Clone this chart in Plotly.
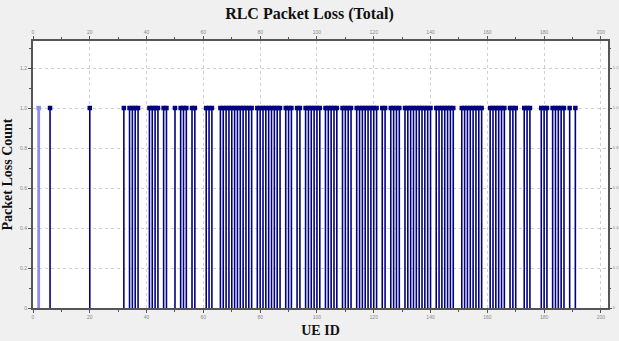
import plotly.graph_objects as go

# UE IDs with packet loss
ue_ids = [
    2, 6, 20, 32, 34, 35, 36, 37, 41, 42, 43, 44, 46, 47, 50, 52, 53, 54, 56, 57, 61, 62, 63,
    66, 67, 68, 69, 70, 71, 72, 73, 74, 75, 76, 77,
    79, 80, 81, 82, 83, 84, 85, 86, 87,
    89, 90, 91, 93, 94, 96, 97, 98, 99, 100, 101,
    103, 104, 105, 106, 107, 109, 110, 111, 112,
    114, 115, 116, 117, 118, 119, 120, 121, 123, 124,
    126, 127, 128, 129, 131, 132, 133, 134, 135, 136, 137, 138, 139, 140,
    142, 143, 144, 145, 146, 147, 148, 151, 152, 153, 154, 155, 156, 157, 158,
    161, 162, 163, 164, 165, 166, 168, 169, 170, 173, 174, 175,
    179, 180, 181, 183, 184, 185, 186, 187, 189, 191,
]
loss_count = [
    1, 1, 1, 1, 1, 1, 1, 1, 1, 1, 1, 1, 1, 1, 1, 1, 1, 1, 1, 1, 1, 1, 1, 1, 1,
    1, 1, 1, 1, 1, 1, 1, 1, 1, 1, 1, 1, 1, 1, 1, 1, 1, 1, 1, 1, 1, 1, 1, 1, 1,
    1, 1, 1, 1, 1, 1, 1, 1, 1, 1, 1, 1, 1, 1, 1, 1, 1, 1, 1, 1, 1, 1, 1, 1, 1,
    1, 1, 1, 1, 1, 1, 1, 1, 1, 1, 1, 1, 1, 1, 1, 1, 1, 1, 1, 1, 1, 1, 1, 1, 1,
    1, 1, 1, 1, 1, 1, 1, 1, 1, 1, 1, 1, 1, 1, 1, 1, 1, 1, 1, 1, 1, 1, 1, 1, 1,
]
highlight_ue = [2]

x_ticks = [0, 20, 40, 60, 80, 100, 120, 140, 160, 180, 200]
y_ticks = [0, 0.2, 0.4, 0.6, 0.8, 1.0, 1.2]
y_ticktext = ["0", "0.2", "0.4", "0.6", "0.8", "1.0", "1.2"]

n = min(len(ue_ids), len(loss_count))
ue_ids = ue_ids[:n]
loss_count = loss_count[:n]

NAVY = "#000080"
LIGHT = "#8c8cf0"

# stems as line segments
sx, sy, hx, hy = [], [], [], []
for u, v in zip(ue_ids, loss_count):
    if u in highlight_ue:
        hx += [u, u, None]
        hy += [0, v, None]
    else:
        sx += [u, u, None]
        sy += [0, v, None]

fig = go.Figure()
fig.add_trace(go.Scatter(x=sx, y=sy, mode="lines", line=dict(color=NAVY, width=1.6),
                         showlegend=False, hoverinfo="skip"))
fig.add_trace(go.Scatter(x=hx, y=hy, mode="lines", line=dict(color=LIGHT, width=2.8),
                         showlegend=False, hoverinfo="skip"))
colors = [LIGHT if u in highlight_ue else NAVY for u in ue_ids]
fig.add_trace(go.Scatter(x=ue_ids, y=loss_count, mode="markers",
                         xaxis="x2", yaxis="y2",
                         marker=dict(symbol="square", size=4.5, color=colors,
                                     line=dict(width=0)),
                         showlegend=False))

tickfont = dict(family="Liberation Sans", size=5, color="#888")
axis_common = dict(
    showline=True, linecolor="#555", linewidth=2,
    ticks="outside", ticklen=3, tickcolor="#555", tickwidth=1,
    tickfont=tickfont, zeroline=False, automargin=False,
)
xr = [0, 202.5]
yr = [0, 1.335]

fig.update_layout(
    width=619, height=341,
    paper_bgcolor="#f0f0f0", plot_bgcolor="#ffffff",
    margin=dict(l=33, r=11, t=41, b=33, autoexpand=False),
    title=dict(text="<b>RLC Packet Loss (Total)</b>", x=0.5, xanchor="center",
               y=0.978, yanchor="top",
               font=dict(family="Liberation Serif", size=16, color="#111")),
    xaxis=dict(range=xr, tickvals=x_ticks, ticktext=[str(v) for v in x_ticks],
               showgrid=True, gridcolor="#cfcfcf", griddash="dot", gridwidth=1,
               minor=dict(dtick=10, ticks="outside", ticklen=2, tickcolor="#555"),
               title=dict(text="<b>UE ID</b>", standoff=6,
                          font=dict(family="Liberation Serif", size=14, color="#111")),
               **axis_common),
    xaxis2=dict(range=xr, tickvals=x_ticks, ticktext=[str(v) for v in x_ticks],
                overlaying="x", side="top", anchor="y2", showgrid=False,
                minor=dict(dtick=10, ticks="outside", ticklen=2, tickcolor="#555"),
                **axis_common),
    yaxis=dict(range=yr, tickvals=y_ticks, ticktext=y_ticktext,
               showgrid=True, gridcolor="#cfcfcf", griddash="dot", gridwidth=1,
               minor=dict(dtick=0.1, ticks="outside", ticklen=2, tickcolor="#555"),
               title=dict(text="<b>Packet Loss Count</b>", standoff=6,
                          font=dict(family="Liberation Serif", size=14, color="#111")),
               **axis_common),
    yaxis2=dict(range=yr, tickvals=y_ticks, ticktext=y_ticktext,
                overlaying="y", side="right", anchor="x2", showgrid=False,
                minor=dict(dtick=0.1, ticks="outside", ticklen=1, tickcolor="#555"),
                showline=True, linecolor="#555", linewidth=2,
                ticks="outside", ticklen=2, tickcolor="#555", tickwidth=1,
                ticklabelstandoff=0,
                tickfont=dict(family="Liberation Sans", size=4, color="#888"),
                zeroline=False, automargin=False),
)

fig.write_html(
    "out.html",
    config={"displayModeBar": False},
    post_script="document.body.style.margin='0';document.body.style.padding='0';"
                "document.body.style.overflow='hidden';",
)
